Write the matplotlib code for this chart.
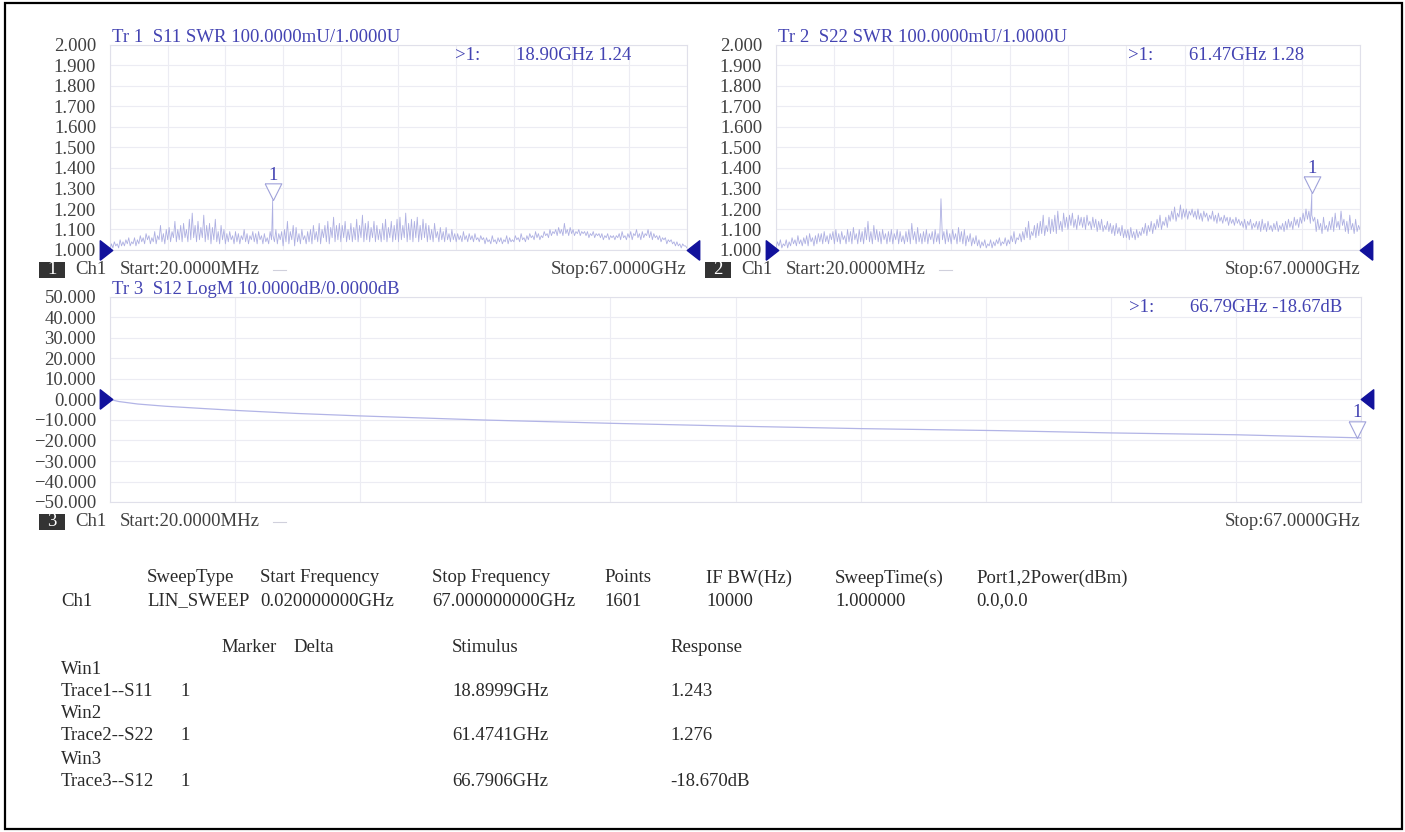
import numpy as np
import matplotlib
matplotlib.use("Agg")
import matplotlib.pyplot as plt
from matplotlib.patches import Rectangle
from matplotlib.lines import Line2D
from matplotlib.path import Path
from matplotlib.transforms import offset_copy

plt.rcParams['font.family'] = ['Liberation Serif', 'DejaVu Serif']

W, H = 1405, 832

# channel 1 sweep: linear, 0.02 .. 67 GHz
f_start, f_stop = 0.02, 67.0

# S11 SWR trace, one row per ~1.675 GHz
s11_swr = [
    1.00, 1.03, 1.01, 1.04, 1.02, 1.03, 1.01, 1.05, 1.02, 1.04,
    1.02, 1.05, 1.03, 1.06, 1.02, 1.04, 1.03, 1.06, 1.02, 1.05,
    1.03, 1.07, 1.04, 1.06, 1.03, 1.08, 1.05, 1.07, 1.03, 1.06,
    1.04, 1.09, 1.03, 1.07, 1.05, 1.12, 1.04, 1.08, 1.03, 1.10,
    1.05, 1.11, 1.04, 1.09, 1.06, 1.14, 1.04, 1.10, 1.05, 1.12,
    1.04, 1.13, 1.06, 1.10, 1.04, 1.15, 1.05, 1.18, 1.06, 1.12,
    1.04, 1.14, 1.05, 1.11, 1.06, 1.17, 1.04, 1.12, 1.05, 1.13,
    1.03, 1.11, 1.05, 1.15, 1.04, 1.09, 1.03, 1.12, 1.05, 1.10,
    1.03, 1.08, 1.04, 1.09, 1.05, 1.07, 1.03, 1.09, 1.04, 1.08,
    1.03, 1.07, 1.05, 1.10, 1.04, 1.08, 1.03, 1.07, 1.05, 1.09,
    1.04, 1.08, 1.03, 1.09, 1.05, 1.07, 1.03, 1.08, 1.04, 1.06,
    1.03, 1.09, 1.05, 1.07, 1.04, 1.10, 1.03, 1.08, 1.05, 1.09,
    1.02, 1.10, 1.04, 1.14, 1.03, 1.09, 1.05, 1.12, 1.02, 1.11,
    1.04, 1.08, 1.03, 1.10, 1.05, 1.07, 1.03, 1.09, 1.04, 1.10,
    1.03, 1.12, 1.05, 1.09, 1.04, 1.13, 1.03, 1.10, 1.06, 1.12,
    1.04, 1.14, 1.03, 1.11, 1.06, 1.16, 1.04, 1.12, 1.05, 1.13,
    1.04, 1.12, 1.06, 1.14, 1.04, 1.10, 1.05, 1.13, 1.04, 1.11,
    1.05, 1.15, 1.04, 1.12, 1.06, 1.17, 1.04, 1.13, 1.05, 1.14,
    1.04, 1.11, 1.06, 1.14, 1.04, 1.12, 1.05, 1.10, 1.04, 1.13,
    1.05, 1.15, 1.04, 1.11, 1.06, 1.14, 1.04, 1.12, 1.05, 1.15,
    1.04, 1.16, 1.05, 1.12, 1.06, 1.18, 1.04, 1.13, 1.05, 1.15,
    1.04, 1.14, 1.06, 1.16, 1.04, 1.12, 1.05, 1.15, 1.06, 1.13,
    1.04, 1.12, 1.05, 1.10, 1.04, 1.13, 1.06, 1.09, 1.04, 1.11,
    1.05, 1.09, 1.04, 1.11, 1.05, 1.08, 1.04, 1.10, 1.05, 1.08,
    1.04, 1.08, 1.05, 1.07, 1.04, 1.09, 1.05, 1.07, 1.04, 1.08,
    1.05, 1.07, 1.04, 1.08, 1.05, 1.06, 1.04, 1.07, 1.05, 1.06,
    1.03, 1.06, 1.04, 1.05, 1.03, 1.07, 1.04, 1.05, 1.03, 1.06,
    1.04, 1.06, 1.03, 1.05, 1.04, 1.07, 1.03, 1.06, 1.04, 1.05,
    1.04, 1.07, 1.05, 1.06, 1.04, 1.08, 1.05, 1.06, 1.04, 1.07,
    1.05, 1.08, 1.06, 1.07, 1.05, 1.09, 1.06, 1.08, 1.05, 1.07,
    1.06, 1.09, 1.07, 1.08, 1.06, 1.10, 1.07, 1.09, 1.08, 1.10,
    1.07, 1.11, 1.08, 1.10, 1.07, 1.13, 1.08, 1.10, 1.07, 1.11,
    1.08, 1.10, 1.07, 1.09, 1.08, 1.10, 1.07, 1.09, 1.08, 1.09,
    1.07, 1.09, 1.06, 1.08, 1.07, 1.09, 1.06, 1.08, 1.07, 1.08,
    1.06, 1.08, 1.05, 1.07, 1.06, 1.08, 1.05, 1.07, 1.06, 1.07,
    1.05, 1.07, 1.06, 1.08, 1.05, 1.09, 1.06, 1.07, 1.05, 1.08,
    1.06, 1.09, 1.05, 1.08, 1.07, 1.10, 1.06, 1.08, 1.05, 1.09,
    1.06, 1.08, 1.07, 1.10, 1.06, 1.09, 1.05, 1.08, 1.06, 1.07,
    1.05, 1.07, 1.04, 1.06, 1.05, 1.06, 1.03, 1.05, 1.04, 1.05,
    1.03, 1.04, 1.02, 1.04, 1.02, 1.03, 1.01, 1.03, 1.02, 1.02,
    1.01,
]

# S22 SWR trace
s22_swr = [
    1.01, 1.04, 1.02, 1.05, 1.01, 1.03, 1.02, 1.05, 1.01, 1.04,
    1.02, 1.06, 1.03, 1.05, 1.02, 1.07, 1.03, 1.05, 1.02, 1.06,
    1.03, 1.07, 1.02, 1.08, 1.04, 1.06, 1.02, 1.07, 1.03, 1.08,
    1.04, 1.08, 1.03, 1.09, 1.04, 1.07, 1.03, 1.08, 1.05, 1.09,
    1.03, 1.10, 1.04, 1.08, 1.03, 1.09, 1.05, 1.07, 1.03, 1.10,
    1.04, 1.09, 1.03, 1.11, 1.05, 1.08, 1.03, 1.10, 1.04, 1.09,
    1.03, 1.11, 1.05, 1.14, 1.04, 1.09, 1.03, 1.12, 1.05, 1.10,
    1.04, 1.09, 1.03, 1.10, 1.05, 1.08, 1.03, 1.09, 1.04, 1.10,
    1.03, 1.08, 1.05, 1.10, 1.03, 1.09, 1.04, 1.07, 1.03, 1.09,
    1.04, 1.10, 1.03, 1.13, 1.05, 1.09, 1.03, 1.11, 1.04, 1.08,
    1.03, 1.09, 1.04, 1.10, 1.03, 1.08, 1.05, 1.09, 1.03, 1.10,
    1.04, 1.08, 1.03, 1.25, 1.05, 1.09, 1.03, 1.10, 1.04, 1.08,
    1.03, 1.10, 1.05, 1.08, 1.03, 1.11, 1.04, 1.09, 1.03, 1.10,
    1.02, 1.07, 1.04, 1.08, 1.02, 1.06, 1.03, 1.07, 1.02, 1.05,
    1.01, 1.04, 1.02, 1.05, 1.01, 1.03, 1.02, 1.05, 1.01, 1.04,
    1.02, 1.05, 1.03, 1.06, 1.02, 1.04, 1.03, 1.06, 1.02, 1.05,
    1.03, 1.07, 1.04, 1.09, 1.03, 1.06, 1.05, 1.08, 1.04, 1.09,
    1.05, 1.11, 1.06, 1.14, 1.05, 1.09, 1.07, 1.12, 1.06, 1.13,
    1.07, 1.14, 1.08, 1.17, 1.07, 1.12, 1.09, 1.16, 1.08, 1.15,
    1.09, 1.17, 1.08, 1.19, 1.10, 1.14, 1.09, 1.18, 1.11, 1.16,
    1.10, 1.17, 1.12, 1.18, 1.11, 1.15, 1.10, 1.17, 1.12, 1.16,
    1.11, 1.16, 1.10, 1.17, 1.12, 1.14, 1.10, 1.16, 1.11, 1.15,
    1.09, 1.14, 1.10, 1.15, 1.09, 1.12, 1.10, 1.14, 1.09, 1.13,
    1.08, 1.12, 1.07, 1.13, 1.08, 1.11, 1.07, 1.12, 1.06, 1.10,
    1.06, 1.10, 1.05, 1.11, 1.06, 1.09, 1.05, 1.10, 1.06, 1.09,
    1.07, 1.11, 1.08, 1.13, 1.07, 1.12, 1.09, 1.14, 1.08, 1.13,
    1.10, 1.15, 1.11, 1.17, 1.10, 1.14, 1.12, 1.16, 1.11, 1.17,
    1.14, 1.19, 1.15, 1.21, 1.14, 1.18, 1.16, 1.22, 1.15, 1.20,
    1.16, 1.20, 1.15, 1.19, 1.17, 1.20, 1.16, 1.19, 1.15, 1.20,
    1.15, 1.18, 1.14, 1.19, 1.16, 1.18, 1.14, 1.17, 1.15, 1.19,
    1.14, 1.17, 1.13, 1.18, 1.14, 1.16, 1.13, 1.17, 1.14, 1.16,
    1.12, 1.16, 1.13, 1.15, 1.12, 1.16, 1.13, 1.15, 1.12, 1.14,
    1.11, 1.15, 1.10, 1.14, 1.12, 1.15, 1.10, 1.13, 1.11, 1.14,
    1.10, 1.14, 1.09, 1.15, 1.10, 1.13, 1.09, 1.14, 1.10, 1.12,
    1.09, 1.13, 1.10, 1.14, 1.09, 1.12, 1.10, 1.13, 1.09, 1.14,
    1.10, 1.15, 1.11, 1.14, 1.10, 1.16, 1.12, 1.15, 1.11, 1.16,
    1.13, 1.18, 1.14, 1.20, 1.15, 1.19, 1.13, 1.17, 1.14, 1.16,
    1.09, 1.15, 1.10, 1.13, 1.08, 1.16, 1.10, 1.12, 1.09, 1.14,
    1.10, 1.16, 1.09, 1.18, 1.11, 1.14, 1.10, 1.19, 1.12, 1.15,
    1.09, 1.14, 1.08, 1.17, 1.10, 1.13, 1.08, 1.15, 1.09, 1.12,
    1.10,
]

# S12 insertion loss, LogM
s12_freq = [0.02, 0.5, 1.5, 3.0, 5.0, 6.7, 10.0, 13.4, 20.0, 26.8,
            33.5, 40.2, 47.7, 53.6, 60.3, 66.79, 67.0]
s12_db = [0.0, -1.0, -2.2, -3.3, -4.4, -5.3, -6.8, -8.0, -10.0, -11.6,
          -13.0, -14.2, -15.2, -16.3, -17.2, -18.67, -18.7]

# marker 1 on each trace: (stimulus GHz, response)
mk_s11 = (18.8999, 1.243)
mk_s22 = (61.4741, 1.276)
mk_s12 = (66.7906, -18.670)

swr_ticks = [1.0, 1.1, 1.2, 1.3, 1.4, 1.5, 1.6, 1.7, 1.8, 1.9, 2.0]
db_ticks = [-50, -40, -30, -20, -10, 0, 10, 20, 30, 40, 50]

sweep_header = ['SweepType', 'Start Frequency', 'Stop Frequency', 'Points',
                'IF BW(Hz)', 'SweepTime(s)', 'Port1,2Power(dBm)']
sweep_values = ['LIN_SWEEP', '0.020000000GHz', '67.000000000GHz', '1601',
                '10000', '1.000000', '0.0,0.0']

TRACE = '#aeb0e2'
BLUE = '#4343b2'
NAVY = '#12129c'
GRID = '#ececf3'
GRAY = '#404040'
FS = 13.5

fig = plt.figure(figsize=(W / 100, H / 100), dpi=100)
fig.patch.set_facecolor('white')


def fxy(x, y):
    return x / W, 1 - y / H


def pane(left, top, right, bottom):
    return fig.add_axes([left / W, 1 - bottom / H, (right - left) / W, (bottom - top) / H])


def ftext(x, y, s, **kw):
    kw.setdefault('fontsize', FS)
    kw.setdefault('va', 'center')
    fig.text(*fxy(x, y), s, **kw)


# instrument marker shapes
ref_right = Path([(-0.32, -0.5), (-0.32, 0.5), (0.32, 0.0), (-0.32, -0.5)])
ref_left = Path([(0.32, -0.5), (0.32, 0.5), (-0.32, 0.0), (0.32, -0.5)])
mk_tri = Path([(-0.5, 1.0), (0.5, 1.0), (0.0, 0.0), (-0.5, 1.0)])


def setup(ax, ylo, yhi, yticks, fmt):
    ax.set_xlim(f_start, f_stop)
    ax.set_ylim(ylo, yhi)
    ax.set_xticks(np.linspace(f_start, f_stop, 11))
    ax.set_xticklabels([])
    ax.set_yticks(yticks)
    ax.set_yticklabels([(fmt % t).replace('-', '\u2212') for t in yticks])
    ax.grid(True, color=GRID, lw=0.8)
    ax.set_axisbelow(True)
    ax.tick_params(length=0, pad=10, labelsize=FS, labelcolor=GRAY)
    for sp in ax.spines.values():
        sp.set_color('#e0e0ea')
        sp.set_linewidth(0.8)


def ref_arrows(ax, ref):
    lt = offset_copy(ax.transData, fig=fig, x=-4, y=0, units='dots')
    rt = offset_copy(ax.transData, fig=fig, x=6, y=0, units='dots')
    ax.plot([f_start], [ref], marker=ref_right, ms=14, color=NAVY, ls='none',
            clip_on=False, transform=lt, zorder=5)
    ax.plot([f_stop], [ref], marker=ref_left, ms=14, color=NAVY, ls='none',
            clip_on=False, transform=rt, zorder=5)


def swr_trace(ax, vals, mk):
    f = np.linspace(f_start, f_stop, len(vals))
    v = np.asarray(vals, dtype=float)
    i = np.searchsorted(f, mk[0])
    f = np.insert(f, i, mk[0])
    v = np.insert(v, i, mk[1])
    ax.plot(f, v, color=TRACE, lw=0.6, zorder=3)


def marker(ax, mk):
    ax.plot([mk[0]], [mk[1]], marker=mk_tri, ms=24, mfc='white', mec='#a0a2da',
            mew=0.8, ls='none', clip_on=False, zorder=6)
    ax.annotate('1', mk, xytext=(0, 25), textcoords='offset pixels',
                ha='center', va='center', color=BLUE, fontsize=FS,
                annotation_clip=False)


def footer(box_x, y, num, ax_left, ax_right):
    fig.add_artist(Rectangle(fxy(box_x, y + 8), 26 / W, 16 / H, transform=fig.transFigure,
                             fc='#333333', ec='none'))
    ftext(box_x + 13, y, num, color='white', ha='center')
    ftext(ax_left - 35, y, 'Ch1', color=GRAY)
    ftext(ax_left + 10, y, 'Start:20.0000MHz', color=GRAY)
    fig.add_artist(Line2D([(ax_left + 163) / W, (ax_left + 176) / W], [1 - y / H] * 2,
                          transform=fig.transFigure, color='#d0d0dc', lw=0.8))
    ftext(ax_right, y, 'Stop:67.0000GHz', color=GRAY, ha='right')


# window 1: S11
ax1 = pane(110, 45, 687, 250)
setup(ax1, 1.0, 2.0, swr_ticks, '%.3f')
swr_trace(ax1, s11_swr, mk_s11)
marker(ax1, mk_s11)
ref_arrows(ax1, 1.0)
ftext(112, 37, 'Tr 1  S11 SWR 100.0000mU/1.0000U', color=BLUE)
ftext(455, 55, '>1:', color=BLUE)
ftext(516, 55, '%.2fGHz %.2f' % mk_s11, color=BLUE)
footer(39, 270, '1', 110, 687)

# window 2: S22
ax2 = pane(776, 45, 1360, 250)
setup(ax2, 1.0, 2.0, swr_ticks, '%.3f')
swr_trace(ax2, s22_swr, mk_s22)
marker(ax2, mk_s22)
ref_arrows(ax2, 1.0)
ftext(778, 37, 'Tr 2  S22 SWR 100.0000mU/1.0000U', color=BLUE)
ftext(1128, 55, '>1:', color=BLUE)
ftext(1189, 55, '%.2fGHz %.2f' % mk_s22, color=BLUE)
footer(705, 270, '2', 776, 1360)

# window 3: S12
ax3 = pane(110, 297, 1361, 502)
setup(ax3, -50, 50, db_ticks, '%.3f')
ax3.plot(s12_freq, s12_db, color='#b2b4e6', lw=0.9, zorder=3)
marker(ax3, mk_s12)
ref_arrows(ax3, 0.0)
ftext(112, 289, 'Tr 3  S12 LogM 10.0000dB/0.0000dB', color=BLUE)
ftext(1129, 307, '>1:', color=BLUE)
ftext(1190, 307, '%.2fGHz %.2fdB' % mk_s12, color=BLUE)
footer(39, 522, '3', 110, 1361)

# channel setup table
TXT = '#2a2a2a'
col_x = [147, 260, 432, 604, 706, 835, 976]
for x, h, v in zip(col_x, sweep_header, sweep_values):
    ftext(x, 578, h, color=TXT)
    ftext(x, 601, v, color=TXT)
ftext(61, 601, 'Ch1', color=TXT)

# marker table
for x, h in zip([221, 293, 452, 670], ['Marker', 'Delta', 'Stimulus', 'Response']):
    ftext(x, 647, h, color=TXT)
rows = [('Win1', 'Trace1--S11', mk_s11, '%.3f'),
        ('Win2', 'Trace2--S22', mk_s22, '%.3f'),
        ('Win3', 'Trace3--S12', mk_s12, '%.3fdB')]
y = 669
for win, name, mk, fmt in rows:
    ftext(61, y, win, color=TXT)
    ftext(61, y + 22, name, color=TXT)
    ftext(180, y + 22, '1', color=TXT)
    ftext(452, y + 22, '%.4fGHz' % mk[0], color=TXT)
    ftext(670, y + 22, fmt % mk[1], color=TXT)
    y += 45

# outer frame
fig.add_artist(Rectangle(fxy(5, 829), 1397 / W, 826 / H, transform=fig.transFigure,
                         fill=False, ec='black', lw=1.6))

fig.savefig('out.png', dpi=100, facecolor='white')
